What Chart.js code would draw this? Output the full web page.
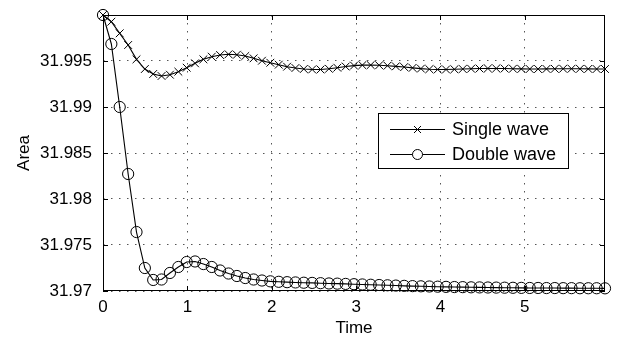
<!DOCTYPE html>
<html lang="en">
<head>
  <meta charset="UTF-8">
  <title>Area over Time</title>
  <script src="https://cdn.jsdelivr.net/npm/chart.js"></script>
  <style>
    body { margin: 0; background: #fff; }
  </style>
</head>
<body>
  <canvas id="areaChart" width="618" height="342"></canvas>

  <script>
    // Sample times (61 samples over 0..5.95)
    const time = [0, 0.099, 0.198, 0.298, 0.397, 0.496, 0.595, 0.694, 0.793, 0.893,
      0.992, 1.091, 1.19, 1.289, 1.388, 1.488, 1.587, 1.686, 1.785, 1.884,
      1.983, 2.083, 2.182, 2.281, 2.38, 2.479, 2.578, 2.678, 2.777, 2.876,
      2.975, 3.074, 3.173, 3.273, 3.372, 3.471, 3.57, 3.669, 3.768, 3.868,
      3.967, 4.066, 4.165, 4.264, 4.363, 4.463, 4.562, 4.661, 4.76, 4.859,
      4.958, 5.058, 5.157, 5.256, 5.355, 5.454, 5.553, 5.653, 5.752, 5.851, 5.95];

    const singleWave = [32.00000, 31.99927, 31.99801, 31.99674, 31.99518, 31.99413, 31.99359, 31.99337, 31.99351, 31.99384,
      31.99427, 31.99475, 31.99518, 31.99547, 31.99565, 31.99573, 31.99568, 31.99554, 31.99529, 31.99503,
      31.99481, 31.99460, 31.99438, 31.99424, 31.99413, 31.99408, 31.99408, 31.99415, 31.99427, 31.99440,
      31.99450, 31.99455, 31.99456, 31.99454, 31.99449, 31.99442, 31.99434, 31.99425, 31.99417, 31.99411,
      31.99408, 31.99408, 31.99410, 31.99413, 31.99416, 31.99418, 31.99419, 31.99419, 31.99418, 31.99416,
      31.99414, 31.99413, 31.99413, 31.99414, 31.99415, 31.99416, 31.99416, 31.99415, 31.99414, 31.99413, 31.99413];

    const doubleWave = [32.00000, 31.99685, 31.99000, 31.98272, 31.97641, 31.97250, 31.97120, 31.97125, 31.97196, 31.97261,
      31.97315, 31.97321, 31.97293, 31.97261, 31.97223, 31.97190, 31.97163, 31.97141, 31.97125, 31.97114,
      31.97105, 31.97100, 31.97096, 31.97093, 31.97090, 31.97088, 31.97085, 31.97082, 31.97080, 31.97077,
      31.97074, 31.97071, 31.97068, 31.97065, 31.97062, 31.97059, 31.97056, 31.97053, 31.97051, 31.97049,
      31.97047, 31.97045, 31.97043, 31.97042, 31.97040, 31.97039, 31.97038, 31.97037, 31.97036, 31.97035,
      31.97034, 31.97033, 31.97033, 31.97032, 31.97032, 31.97031, 31.97031, 31.97030, 31.97030, 31.97030, 31.97029];

    const xTicks = [0, 1, 2, 3, 4, 5];
    const yTicks = [31.97, 31.975, 31.98, 31.985, 31.99, 31.995, 32.0];
    const seriesNames = ['Single wave', 'Double wave'];

    const font = '"Liberation Sans", Arial, Helvetica, sans-serif';

    // MATLAB style box with inward ticks
    const axesBox = {
      id: 'axesBox',
      beforeDatasetsDraw(chart) {
        const { ctx, chartArea: a, scales } = chart;
        ctx.save();
        ctx.strokeStyle = '#000';
        ctx.lineWidth = 1;
        ctx.strokeRect(Math.round(a.left) + 0.5, Math.round(a.top) + 0.5,
          Math.round(a.right - a.left) - 1, Math.round(a.bottom - a.top) - 1);
        ctx.beginPath();
        const len = 5;
        xTicks.forEach(v => {
          const x = Math.round(scales.x.getPixelForValue(v)) + 0.5;
          ctx.moveTo(x, a.bottom); ctx.lineTo(x, a.bottom - len);
          ctx.moveTo(x, a.top); ctx.lineTo(x, a.top + len);
        });
        yTicks.forEach(v => {
          const y = Math.round(scales.y.getPixelForValue(v)) + 0.5;
          ctx.moveTo(a.left, y); ctx.lineTo(a.left + len, y);
          ctx.moveTo(a.right, y); ctx.lineTo(a.right - len, y);
        });
        ctx.stroke();
        ctx.restore();
      }
    };

    // legend box inside the plot
    const boxLegend = {
      id: 'boxLegend',
      afterDraw(chart) {
        const { ctx } = chart;
        const bx = 378.5, by = 113.5, bw = 190, bh = 55;
        ctx.save();
        ctx.fillStyle = '#fff';
        ctx.fillRect(bx, by, bw, bh);
        ctx.strokeStyle = '#000';
        ctx.lineWidth = 1;
        ctx.strokeRect(bx, by, bw, bh);
        chart.data.datasets.forEach((ds, i) => {
          const y = 129.5 + i * 25;
          ctx.beginPath();
          ctx.moveTo(390, y); ctx.lineTo(445, y);
          ctx.stroke();
          const cx = 417.5;
          ctx.beginPath();
          if (ds.pointStyle === 'crossRot') {
            const d = 3.5;
            ctx.moveTo(cx - d, y - d); ctx.lineTo(cx + d, y + d);
            ctx.moveTo(cx - d, y + d); ctx.lineTo(cx + d, y - d);
            ctx.stroke();
          } else {
            ctx.arc(cx, y, 5, 0, Math.PI * 2);
            ctx.fillStyle = '#fff';
            ctx.fill();
            ctx.stroke();
          }
          ctx.fillStyle = '#000';
          ctx.font = '18px ' + font;
          ctx.textBaseline = 'middle';
          ctx.fillText(ds.label, 452, y + 1);
        });
        ctx.restore();
      }
    };

    const ctx = document.getElementById('areaChart').getContext('2d');
    new Chart(ctx, {
      type: 'line',
      data: {
        datasets: [{
          label: seriesNames[0],
          data: time.map((t, i) => ({ x: t, y: singleWave[i] })),
          borderColor: '#000',
          borderWidth: 1.1,
          pointStyle: 'crossRot',
          pointRadius: 5.5,
          pointBorderColor: '#000',
          pointBorderWidth: 1,
          pointBackgroundColor: 'rgba(0,0,0,0)',
          tension: 0,
          clip: 10
        }, {
          label: seriesNames[1],
          data: time.map((t, i) => ({ x: t, y: doubleWave[i] })),
          borderColor: '#000',
          borderWidth: 1.1,
          pointStyle: 'circle',
          pointRadius: 5.6,
          pointBorderColor: '#000',
          pointBorderWidth: 1,
          pointBackgroundColor: 'rgba(0,0,0,0)',
          tension: 0,
          clip: 10
        }]
      },
      options: {
        responsive: false,
        animation: false,
        layout: { padding: { top: 15, right: 13, left: 0, bottom: 0 } },
        plugins: {
          legend: { display: false },
          tooltip: { enabled: false }
        },
        scales: {
          x: {
            type: 'linear',
            min: 0,
            max: 5.95,
            afterFit(scale) {
              scale.height = 51;
              scale.paddingLeft = 0;
              scale.paddingRight = 0;
            },
            afterBuildTicks(scale) { scale.ticks = xTicks.map(v => ({ value: v })); },
            grid: { color: '#555', lineWidth: 1, drawTicks: false },
            border: { display: false, dash: [1.5, 6.5] },
            ticks: {
              color: '#000',
              padding: 6,
              maxRotation: 0,
              font: { family: font, size: 17 },
              callback: v => String(v)
            },
            title: {
              display: true,
              text: 'Time',
              color: '#000',
              padding: { top: 0, bottom: 3 },
              font: { family: font, size: 17 }
            }
          },
          y: {
            min: 31.97,
            max: 32.0,
            afterFit(scale) {
              scale.width = 103;
              scale.paddingTop = 0;
              scale.paddingBottom = 0;
            },
            afterBuildTicks(scale) { scale.ticks = yTicks.map(v => ({ value: v })); },
            grid: { color: '#555', lineWidth: 1, drawTicks: false },
            border: { display: false, dash: [1.5, 6.5] },
            ticks: {
              color: '#000',
              padding: 11,
              font: { family: font, size: 17 },
              callback: v => (v >= 32 ? '' : String(parseFloat(v.toFixed(3))))
            },
            title: {
              display: true,
              text: 'Area',
              color: '#000',
              padding: { top: 14, bottom: 0 },
              font: { family: font, size: 17 }
            }
          }
        }
      },
      plugins: [axesBox, boxLegend]
    });
  </script>
</body>
</html>
